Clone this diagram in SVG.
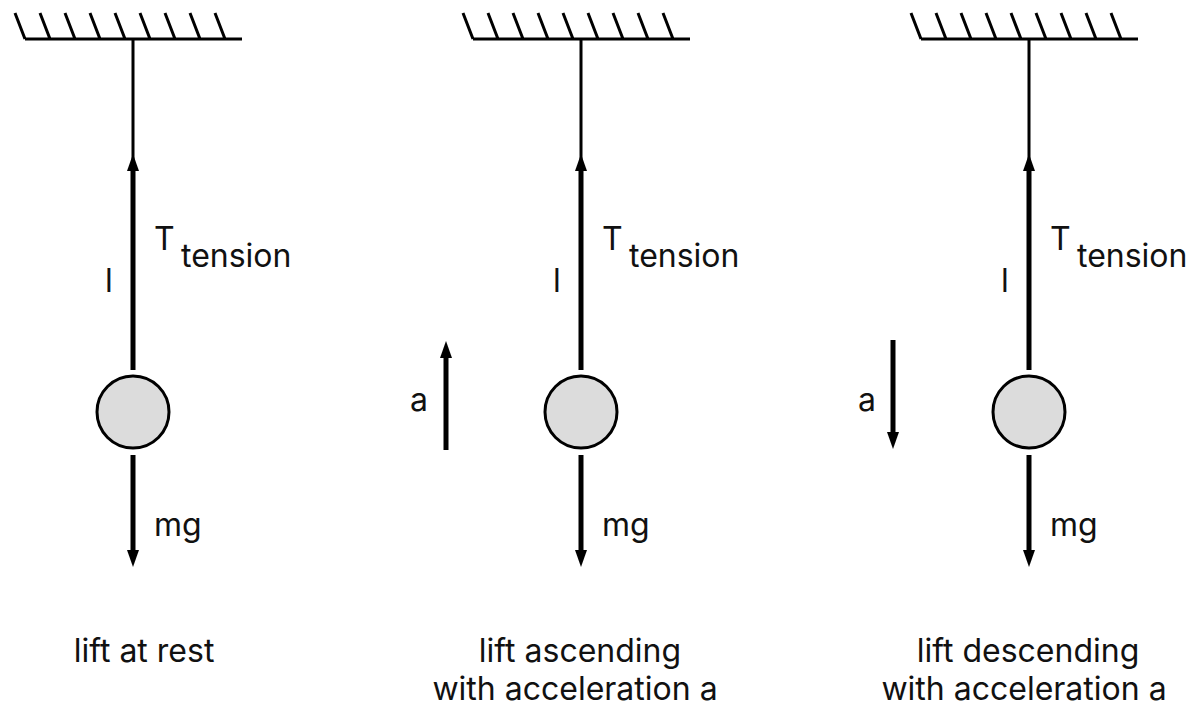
<svg xmlns="http://www.w3.org/2000/svg" width="1200" height="714" viewBox="0 0 1200 714">
<style>
text{font-family:Inter,"Liberation Sans",sans-serif;font-size:32px;fill:#111}
.cap{text-anchor:middle}
.ceil{stroke:#000;stroke-width:3;fill:none}
.rope{stroke:#000;stroke-width:3}
.force{stroke:#000;stroke-width:5}
.mass{fill:#dcdcdc;stroke:#000;stroke-width:3}
</style>
<defs>
<marker id="ah" markerUnits="userSpaceOnUse" markerWidth="17" markerHeight="12" viewBox="0 0 17 12" refX="1" refY="6" orient="auto">
<path d="M0,0 L17,6 L0,12 z" fill="#000"/>
</marker>
<g id="ceiling">
<path class="ceil" d="M-108,0 H109 M-118,-26 L-108,0 M-93,-26 L-83,0 M-68,-26 L-58,0 M-43,-26 L-33,0 M-18,-26 L-8,0 M7,-26 L17,0 M32,-26 L42,0 M57,-26 L67,0 M82,-26 L92,0"/>
</g>
</defs>
<g id="panel1">
<use href="#ceiling" x="133" y="39"/>
<line class="rope" x1="133" y1="39" x2="133" y2="370"/>
<circle class="mass" cx="133" cy="412" r="36"/>
<text x="105" y="292">l</text>
<text x="154" y="250">T</text>
<text x="181" y="267">tension</text>
<text x="154" y="536">mg</text>
<text class="cap" x="144" y="662">lift at rest</text>
</g>
<g id="panel2">
<use href="#ceiling" x="581" y="39"/>
<line class="rope" x1="581" y1="39" x2="581" y2="370"/>
<circle class="mass" cx="581" cy="412" r="36"/>
<text x="553" y="292">l</text>
<text x="602" y="250">T</text>
<text x="629" y="267">tension</text>
<text x="602" y="536">mg</text>
<text x="410" y="411">a</text>
<text class="cap" x="580" y="662">lift ascending</text>
<text class="cap" x="575" y="700">with acceleration a</text>
</g>
<g id="panel3">
<use href="#ceiling" x="1029" y="39"/>
<line class="rope" x1="1029" y1="39" x2="1029" y2="370"/>
<circle class="mass" cx="1029" cy="412" r="36"/>
<text x="1001" y="292">l</text>
<text x="1050" y="250">T</text>
<text x="1077" y="267">tension</text>
<text x="1050" y="536">mg</text>
<text x="858" y="411">a</text>
<text class="cap" x="1028" y="662">lift descending</text>
<text class="cap" x="1024" y="700">with acceleration a</text>
</g>
<g id="connectors">
<line class="force" x1="133" y1="370" x2="133" y2="170" marker-end="url(#ah)"/>
<line class="force" x1="133" y1="455" x2="133" y2="551" marker-end="url(#ah)"/>
<line class="force" x1="581" y1="370" x2="581" y2="170" marker-end="url(#ah)"/>
<line class="force" x1="581" y1="455" x2="581" y2="551" marker-end="url(#ah)"/>
<line class="force" x1="446" y1="450" x2="446" y2="357" marker-end="url(#ah)"/>
<line class="force" x1="1029" y1="370" x2="1029" y2="170" marker-end="url(#ah)"/>
<line class="force" x1="1029" y1="455" x2="1029" y2="551" marker-end="url(#ah)"/>
<line class="force" x1="893" y1="340" x2="893" y2="433" marker-end="url(#ah)"/>
</g>
</svg>
